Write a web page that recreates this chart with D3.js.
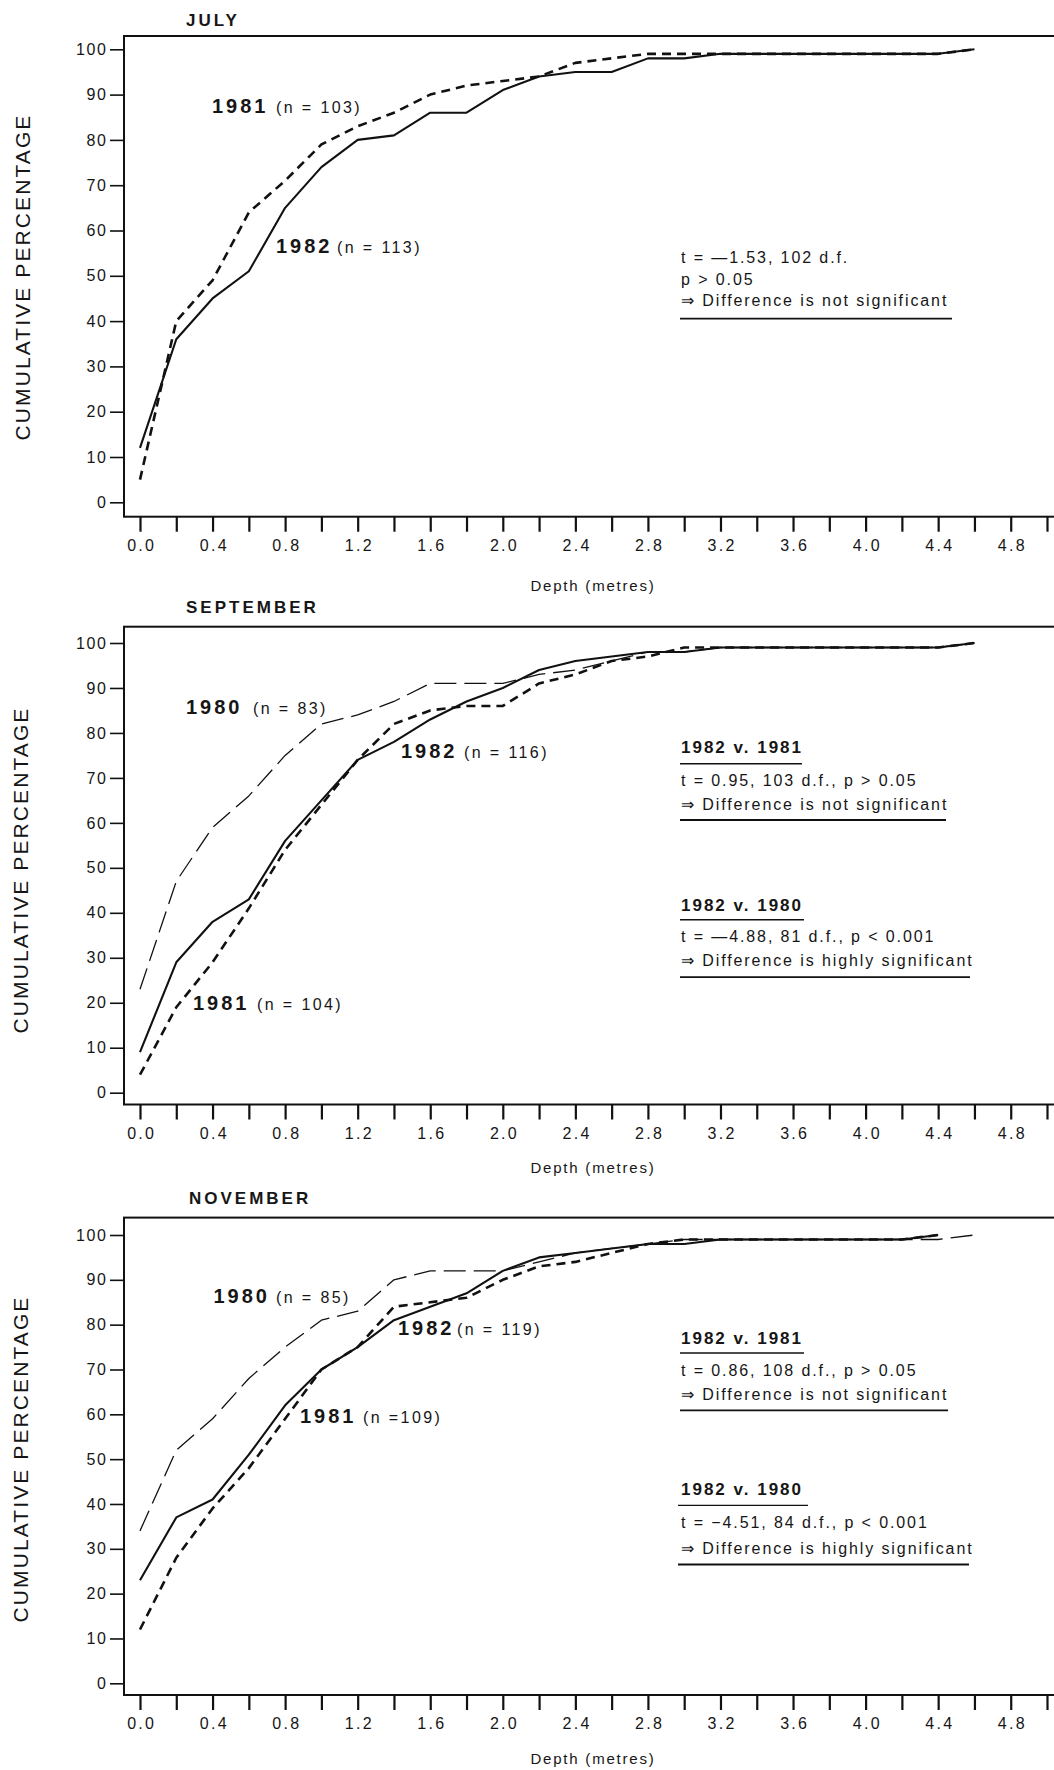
<!DOCTYPE html>
<html><head><meta charset="utf-8">
<script src="https://cdn.jsdelivr.net/npm/d3@7"></script>
<style>
body{margin:0;background:#fff}
svg{display:block}
text{font-family:"Liberation Sans",Arial,Helvetica,sans-serif;fill:#161616}
</style>
</head><body>
<svg id="chart" width="1054" height="1770"></svg>
<script>
// ---------------- DATA ----------------
const depths = [0.0,0.2,0.4,0.6,0.8,1.0,1.2,1.4,1.6,1.8,2.0,2.2,2.4,2.6,2.8,3.0,3.2,3.4,3.6,3.8,4.0,4.2,4.4,4.6];
const xTickValues = [0.0,0.2,0.4,0.6,0.8,1.0,1.2,1.4,1.6,1.8,2.0,2.2,2.4,2.6,2.8,3.0,3.2,3.4,3.6,3.8,4.0,4.2,4.4,4.6,4.8,5.0];
const xTickLabels = ["0.0","","0.4","","0.8","","1.2","","1.6","","2.0","","2.4","","2.8","","3.2","","3.6","","4.0","","4.4","","4.8",""];
const yTickValues = [0,10,20,30,40,50,60,70,80,90,100];

const monthNames = ["JULY","SEPTEMBER","NOVEMBER"];

// July
const july1982 = [12,36,45,51,65,74,80,81,86,86,91,94,95,95,98,98,99,99,99,99,99,99,99,100];
const july1981 = [5,40,49,64,71,79,83,86,90,92,93,94,97,98,99,99,99,99,99,99,99,99,99,100];
// September
const sep1982 = [9,29,38,43,56,65,74,78,83,87,90,94,96,97,98,98,99,99,99,99,99,99,99,100];
const sep1981 = [4,19,29,41,54,64,74,82,85,86,86,91,93,96,97,99,99,99,99,99,99,99,99,100];
const sep1980 = [23,47,59,66,75,82,84,87,91,91,91,93,94,96,98,98,99,99,99,99,99,99,99,100];
// November
const nov1982 = [23,37,41,51,62,70,75,81,84,87,92,95,96,97,98,98,99,99,99,99,99,99,100];
const nov1981 = [12,28,39,48,59,70,75,84,85,86,90,93,94,96,98,99,99,99,99,99,99,99,100];
const nov1980 = [34,52,59,68,75,81,83,90,92,92,92,94,96,97,98,99,99,99,99,99,99,99,99,100];

const seriesLabels = {
  july: [["1981","(n  = 103)"],["1982","(n  = 113)"]],
  sep:  [["1980","(n  = 83)"],["1982","(n  = 116)"],["1981","(n  = 104)"]],
  nov:  [["1980","(n  = 85)"],["1982","(n  = 119)"],["1981","(n =109)"]]
};
const statTexts = {
  july: ["t  =  \u20141.53, 102 d.f.", "p > 0.05", "\u21D2  Difference is not significant"],
  sep: [["1982 v. 1981","t  = 0.95, 103 d.f., p > 0.05","\u21D2  Difference is not significant"],
        ["1982 v. 1980","t  = \u20144.88, 81 d.f., p < 0.001","\u21D2 Difference is highly significant"]],
  nov: [["1982 v. 1981","t  =  0.86, 108 d.f., p >  0.05","\u21D2  Difference is not significant"],
        ["1982 v. 1980","t  =  \u22124.51, 84 d.f., p < 0.001","\u21D2  Difference is highly significant"]]
};
const yAxisTitle = "CUMULATIVE PERCENTAGE";
const xAxisTitle = "Depth (metres)";

// ---------------- DRAWING ----------------
const svg = d3.select("#chart");
const styles = {
  solid: {w:2.1, dash:null},
  heavy: {w:2.6, dash:"9,6"},
  thin:  {w:1.3, dash:"22,8"}
};
const x = d3.scaleLinear().domain([0,5]).range([140,1047]);
const frameLeft = 124, frameRight = 1060;

function panel(cfg){
  const y = d3.scaleLinear().domain([0,100]).range([cfg.y0, cfg.y100]);
  const g = svg.append("g");

  // title
  g.append("text").attr("x", cfg.titleX).attr("y", cfg.titleY)
    .attr("font-size",17).attr("font-weight","bold").attr("letter-spacing",3)
    .text(cfg.title);

  // frame
  g.append("rect").attr("x",frameLeft).attr("y",cfg.top)
    .attr("width",frameRight-frameLeft).attr("height",cfg.bottom-cfg.top)
    .attr("fill","none").attr("stroke","#111").attr("stroke-width",2);

  // y axis
  const ya = g.append("g").attr("transform",`translate(${frameLeft},0)`)
    .call(d3.axisLeft(y).tickValues(yTickValues).tickSize(14).tickPadding(4).tickFormat(d3.format("d")));
  ya.select(".domain").remove();
  ya.selectAll("line").attr("stroke","#111").attr("stroke-width",1.6);
  ya.selectAll("text").attr("font-size",16).attr("letter-spacing",1.6).attr("dx",1.6)
    .style("font-family","'Liberation Sans',Arial,sans-serif").attr("fill","#161616");

  // x axis
  const xa = g.append("g").attr("transform",`translate(0,${cfg.bottom})`)
    .call(d3.axisBottom(x).tickValues(xTickValues).tickSize(15).tickPadding(8)
      .tickFormat((d,i)=>xTickLabels[i]));
  xa.select(".domain").remove();
  xa.selectAll("line").attr("stroke","#111").attr("stroke-width",2.2);
  xa.selectAll("text").attr("font-size",16).attr("letter-spacing",2.3).attr("dx",1.2)
    .style("font-family","'Liberation Sans',Arial,sans-serif").attr("fill","#161616");

  // axis titles
  g.append("text").attr("transform",`translate(${cfg.yTitleX},${cfg.yTitleY}) rotate(-90)`)
    .attr("text-anchor","middle").attr("font-size",21).attr("letter-spacing",2.1)
    .text(yAxisTitle);
  g.append("text").attr("x",593).attr("y",cfg.xTitleY).attr("text-anchor","middle")
    .attr("font-size",15).attr("letter-spacing",1.8).text(xAxisTitle);

  // lines
  const line = d3.line().x((d,i)=>x(depths[i])).y(d=>y(d));
  cfg.series.forEach(s=>{
    const st = styles[s.style];
    g.append("path").datum(s.values).attr("d",line)
      .attr("fill","none").attr("stroke","#111").attr("stroke-width",st.w)
      .attr("stroke-dasharray",st.dash).attr("stroke-linejoin","round");
  });

  // series labels
  cfg.labels.forEach(l=>{
    const t = g.append("text").attr("y",l.y);
    t.append("tspan").attr("x",l.x).attr("font-size",20).attr("font-weight","bold")
      .attr("letter-spacing",3).text(l.text[0]);
    t.append("tspan").attr("x",l.nx).attr("font-size",16).attr("letter-spacing",2.4).text(l.text[1]);
  });

  // stats blocks
  cfg.stats.forEach(b=>{
    b.lines.forEach((ln,i)=>{
      const bold = b.boldFirst && i===0;
      g.append("text").attr("x",681).attr("y",b.ys[i])
        .attr("font-size", bold?17:16).attr("font-weight", bold?"bold":"normal")
        .attr("letter-spacing", bold?2:1.9).text(ln);
    });
    b.rules.forEach(r=>{
      g.append("line").attr("x1",r[0]).attr("x2",r[1]).attr("y1",r[2]).attr("y2",r[2])
        .attr("stroke","#111").attr("stroke-width",r[3]||1.8);
    });
  });
}

panel({
  title: monthNames[0], titleX:186, titleY:26,
  top:36, bottom:516.7, y0:502.3, y100:49.3,
  yTitleX:30, yTitleY:277, xTitleY:591,
  series:[{values:july1982, style:"solid"},{values:july1981, style:"heavy"}],
  labels:[
    {x:212, nx:276, y:113, text:seriesLabels.july[0]},
    {x:276, nx:337, y:253, text:seriesLabels.july[1]}
  ],
  stats:[{boldFirst:false, lines:statTexts.july, ys:[263,285,306], rules:[[680,952,318.6]]}]
});

panel({
  title: monthNames[1], titleX:186, titleY:613,
  top:626.7, bottom:1104.5, y0:1092.7, y100:643,
  yTitleX:28, yTitleY:870, xTitleY:1173,
  series:[{values:sep1980, style:"thin"},{values:sep1981, style:"heavy"},{values:sep1982, style:"solid"}],
  labels:[
    {x:186, nx:253, y:714, text:seriesLabels.sep[0]},
    {x:401, nx:464, y:758, text:seriesLabels.sep[1]},
    {x:193, nx:257, y:1009.5, text:seriesLabels.sep[2]}
  ],
  stats:[
    {boldFirst:true, lines:statTexts.sep[0], ys:[752.5,785.5,809.5], rules:[[680,802,763.7,1.4],[680,946,820]]},
    {boldFirst:true, lines:statTexts.sep[1], ys:[911.3,941.5,965.5], rules:[[680,804,919.8,1.4],[680,970,977.2]]}
  ]
});

panel({
  title: monthNames[2], titleX:189, titleY:1204,
  top:1217.6, bottom:1695, y0:1683.3, y100:1235,
  yTitleX:28, yTitleY:1459, xTitleY:1764,
  series:[{values:nov1980, style:"thin"},{values:nov1981, style:"heavy"},{values:nov1982, style:"solid"}],
  labels:[
    {x:213.5, nx:276, y:1302.5, text:seriesLabels.nov[0]},
    {x:398, nx:457, y:1335, text:seriesLabels.nov[1]},
    {x:300, nx:363, y:1423, text:seriesLabels.nov[2]}
  ],
  stats:[
    {boldFirst:true, lines:statTexts.nov[0], ys:[1344,1375.5,1400], rules:[[680,804,1353,1.4],[680,948,1410.3]]},
    {boldFirst:true, lines:statTexts.nov[1], ys:[1495.3,1528,1554], rules:[[678,808,1505.4,1.4],[678,969,1564.5]]}
  ]
});
</script>
</body></html>
